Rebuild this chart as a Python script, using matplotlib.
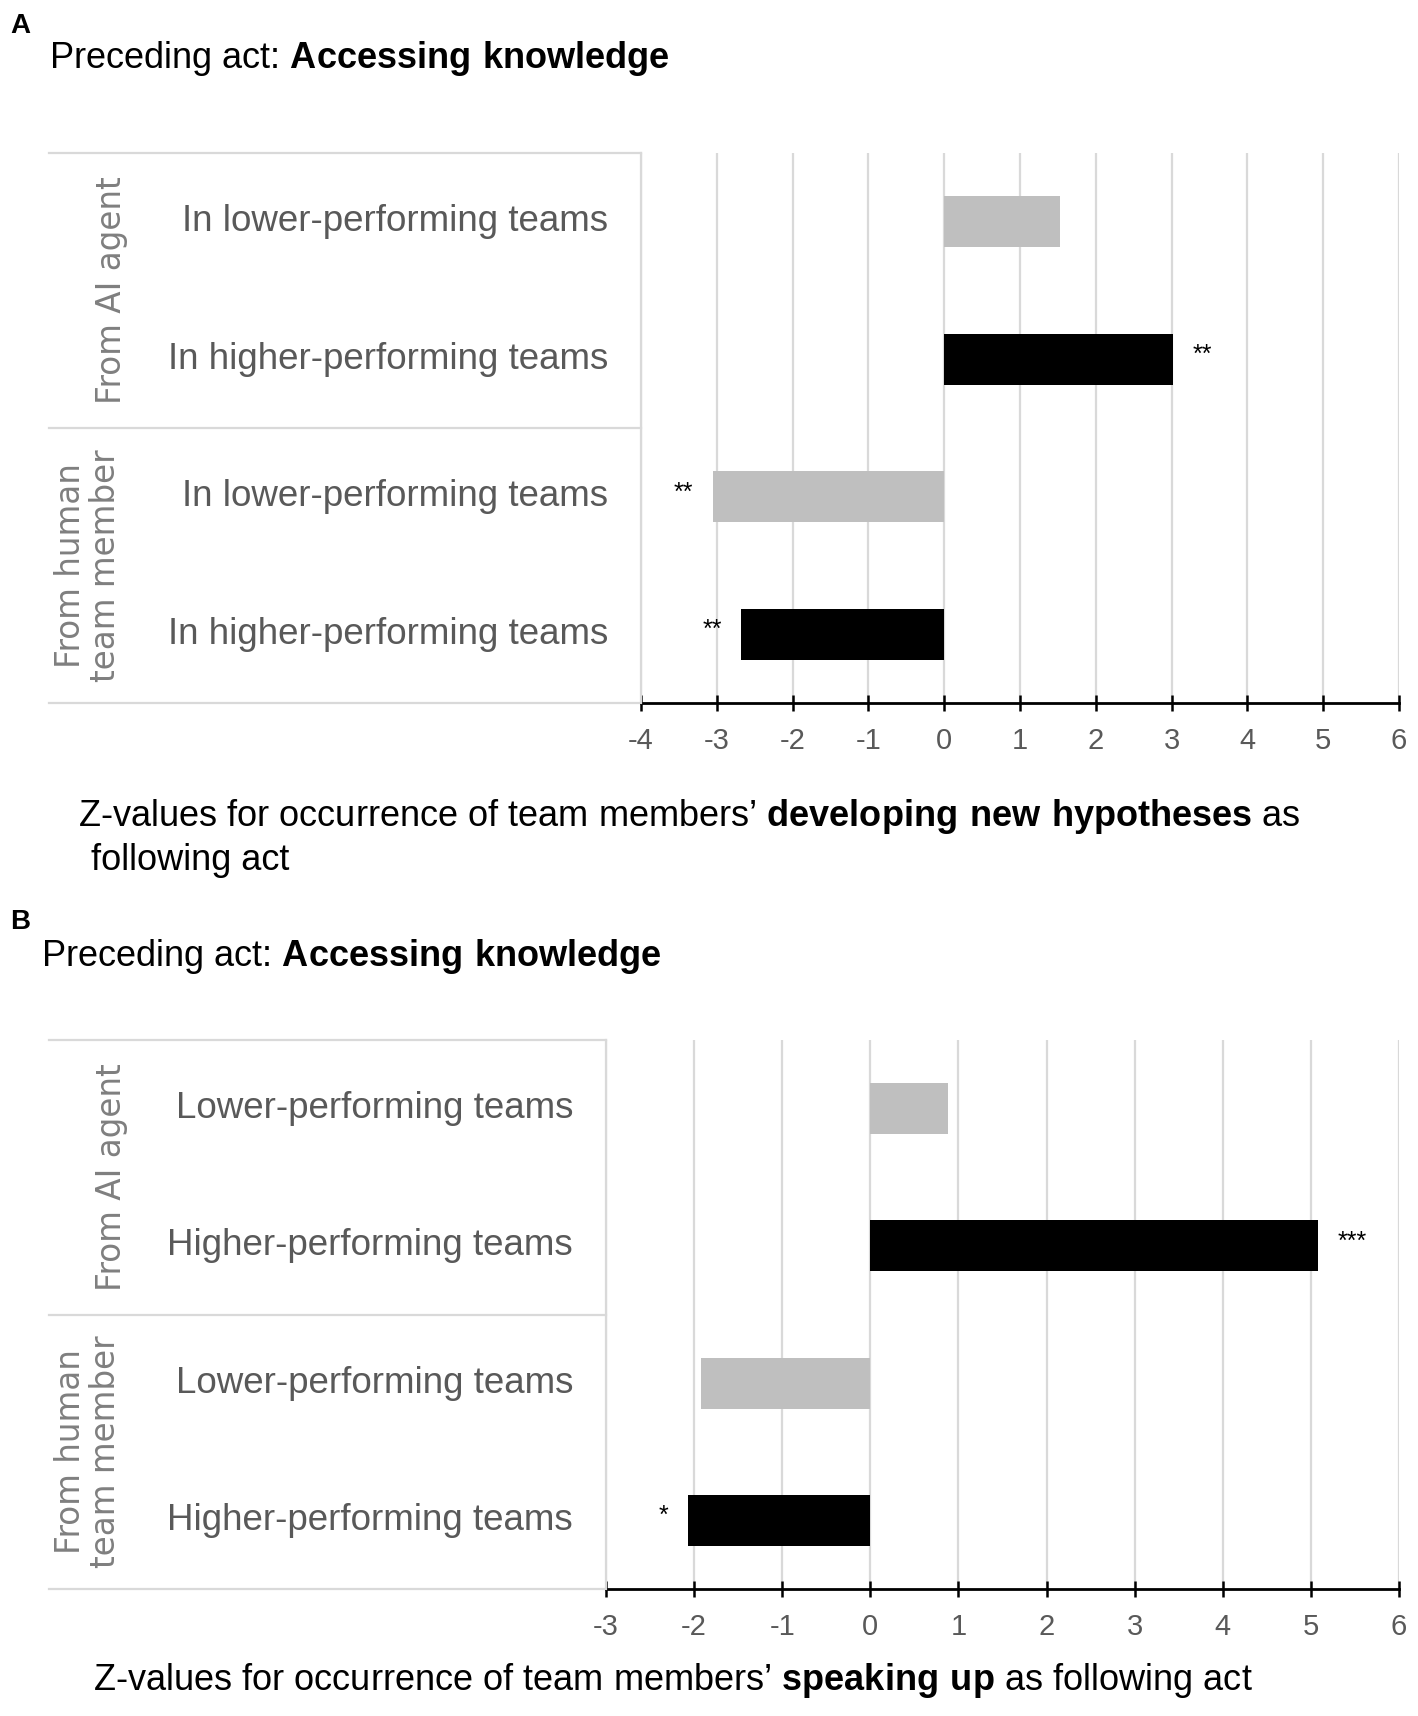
import matplotlib
matplotlib.use('Agg')
import matplotlib.pyplot as plt
from matplotlib.lines import Line2D

plt.rcParams['font.family'] = ['Liberation Sans', 'DejaVu Sans']
plt.rcParams['mathtext.fontset'] = 'custom'
plt.rcParams['mathtext.rm'] = 'Liberation Sans'
plt.rcParams['mathtext.bf'] = 'Liberation Sans:bold'

# data
groups = ['From AI agent', 'From human\nteam member']
rows_a = ['In lower-performing teams', 'In higher-performing teams',
          'In lower-performing teams', 'In higher-performing teams']
vals_a = [1.53, 3.02, -3.05, -2.68]
stars_a = ['', '**', '**', '**']
xticks_a = [-4, -3, -2, -1, 0, 1, 2, 3, 4, 5, 6]

rows_b = ['Lower-performing teams', 'Higher-performing teams',
          'Lower-performing teams', 'Higher-performing teams']
vals_b = [0.88, 5.08, -1.92, -2.07]
stars_b = ['', '***', '', '*']
xticks_b = [-3, -2, -1, 0, 1, 2, 3, 4, 5, 6]

bar_colors = ['#BFBFBF', '#000000', '#BFBFBF', '#000000']

W, H = 1418, 1716
fig = plt.figure(figsize=(W / 100, H / 100), dpi=100)

GRID = '#D9D9D9'
LABEL = '#595959'
GROUP = '#7F7F7F'


def fx(x):
    return x / W


def fy(y):
    return 1 - y / H


def hline(x0, x1, y, color=GRID, lw=1.6):
    fig.add_artist(Line2D([fx(x0), fx(x1)], [fy(y), fy(y)], color=color, lw=lw,
                          transform=fig.transFigure))


def draw_panel(left, right, top, bottom, table_left, label_right, rows, vals, stars, xticks):
    ax = fig.add_axes([fx(left), fy(bottom), fx(right) - fx(left), fy(top) - fy(bottom)])
    ypos = [0.5, 1.5, 2.5, 3.5]
    ax.barh(ypos, vals, height=0.37, color=bar_colors, zorder=3)
    ax.set_ylim(4, 0)
    ax.set_xlim(xticks[0], xticks[-1])
    ax.set_xticks(xticks)
    ax.set_xticklabels([str(t) for t in xticks])
    ax.set_yticks([])
    ax.xaxis.grid(True, color=GRID, lw=1.6, zorder=0)
    ax.set_axisbelow(True)
    for s in ['top', 'right']:
        ax.spines[s].set_visible(False)
    ax.spines['left'].set_color(GRID)
    ax.spines['left'].set_linewidth(1.6)
    ax.spines['bottom'].set_color('black')
    ax.spines['bottom'].set_linewidth(2)
    ax.tick_params(axis='x', direction='inout', length=11, width=1.8, colors='black',
                   labelcolor=LABEL, labelsize=21, pad=12)
    for t in ax.get_xticklabels():
        t.set_fontfamily('Liberation Sans')

    # significance stars
    for y, v, s in zip(ypos, vals, stars):
        if not s:
            continue
        if v >= 0:
            ax.annotate(s, (v, y), xytext=(14, 3), textcoords='offset points',
                        ha='left', va='center', fontsize=18)
        else:
            ax.annotate(s, (v, y), xytext=(-14, 3), textcoords='offset points',
                        ha='right', va='center', fontsize=18)

    # table on the left
    row_h = (bottom - top) / 4
    hline(table_left, left, top)
    hline(table_left, left, top + 2 * row_h)
    hline(table_left, left, bottom)
    for i, r in enumerate(rows):
        fig.text(fx(label_right), fy(top + (i + 0.5) * row_h), r, ha='right', va='center',
                 fontsize=26.5, color=LABEL)
    fig.text(fx(112), fy(top + row_h), groups[0], rotation=90, ha='center', va='center',
             fontsize=23.5, color=GROUP, family='DejaVu Sans')
    fig.text(fx(88), fy(top + 3 * row_h), groups[1], rotation=90, ha='center', va='center',
             fontsize=23.5, color=GROUP, family='DejaVu Sans', linespacing=1.1)
    return ax


# Panel A
fig.text(fx(10), fy(26), 'A', fontsize=20, fontweight='bold', va='center', ha='left')
fig.text(fx(49), fy(58), r'Preceding act: $\bf{Accessing\ knowledge}$', fontsize=26,
         va='center', ha='left')
draw_panel(641, 1399, 153, 703, 49, 608, rows_a, vals_a, stars_a, xticks_a)
fig.text(fx(78), fy(816), 'Z-values for occurrence of team members\u2019 '
         r'$\bf{developing\ new\ hypotheses}$ as', fontsize=26, va='center', ha='left')
fig.text(fx(91), fy(860), 'following act', fontsize=26, va='center', ha='left')

# Panel B
fig.text(fx(10), fy(922), 'B', fontsize=20, fontweight='bold', va='center', ha='left')
fig.text(fx(41), fy(957), r'Preceding act: $\bf{Accessing\ knowledge}$', fontsize=26,
         va='center', ha='left')
draw_panel(606, 1399, 1040, 1589, 49, 573, rows_b, vals_b, stars_b, xticks_b)
fig.text(fx(93), fy(1681), 'Z-values for occurrence of team members\u2019 '
         r'$\bf{speaking\ up}$ as following act', fontsize=26, va='center', ha='left')

fig.savefig('out.png', dpi=100)
